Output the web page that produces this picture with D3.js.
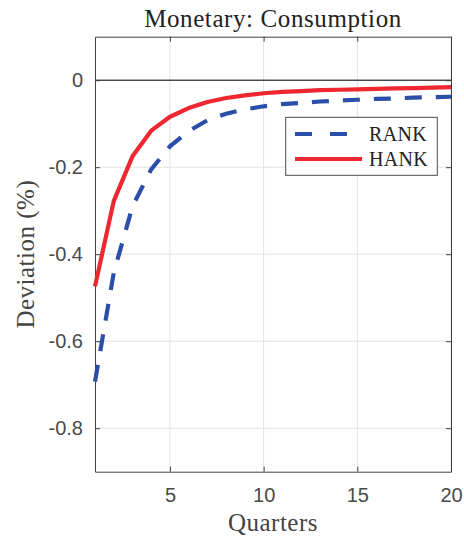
<!DOCTYPE html>
<html>
<head>
<meta charset="utf-8">
<script src="https://cdn.jsdelivr.net/npm/d3@7/dist/d3.min.js"></script>
<style>
  html, body { margin: 0; padding: 0; background: #fff; }
  svg { display: block; }
</style>
</head>
<body>
<svg id="chart" width="464" height="539"></svg>
<script>
// Impulse responses of consumption to a monetary shock (% deviation)
const quarters = d3.range(1, 21);
const rankValues = [-0.693, -0.443, -0.290, -0.205, -0.152, -0.117, -0.092, -0.077, -0.067, -0.060,
                    -0.055, -0.052, -0.049, -0.047, -0.045, -0.043, -0.042, -0.040, -0.039, -0.038];
const hankValues = [-0.474, -0.278, -0.175, -0.116, -0.084, -0.064, -0.050, -0.041, -0.035, -0.030,
                    -0.027, -0.025, -0.023, -0.022, -0.021, -0.020, -0.019, -0.018, -0.017, -0.016];
const xTicks = [5, 10, 15, 20];
const yTicks = [0, -0.2, -0.4, -0.6, -0.8];
const seriesNames = ["RANK", "HANK"];

const margin = { left: 95, right: 13, top: 36.7, bottom: 67.3 };
const W = 464, H = 539;
const svg = d3.select("#chart");

const x = d3.scaleLinear().domain([1, 20]).range([margin.left, W - margin.right]);
const y = d3.scaleLinear().domain([-0.9, 0.1]).range([H - margin.bottom, margin.top]);

const plotW = x.range()[1] - x.range()[0];
const plotH = y.range()[0] - y.range()[1];

// grid
const grid = svg.append("g").attr("stroke", "#e3e3e3").attr("stroke-width", 1);
grid.selectAll(".gx").data(xTicks).join("line")
  .attr("x1", d => x(d)).attr("x2", d => x(d))
  .attr("y1", y.range()[1]).attr("y2", y.range()[0]);
grid.selectAll(".gy").data(yTicks).join("line")
  .attr("x1", x.range()[0]).attr("x2", x.range()[1])
  .attr("y1", d => y(d)).attr("y2", d => y(d));

// zero line
svg.append("line")
  .attr("x1", x.range()[0]).attr("x2", x.range()[1])
  .attr("y1", y(0)).attr("y2", y(0))
  .attr("stroke", "#000").attr("stroke-width", 1);

// axes (ticks point inward, box on all four sides)
const tickFont = "'Liberation Sans', Arial, sans-serif";
const styleAxis = g => {
  g.select(".domain").attr("stroke", "#404040");
  g.selectAll(".tick line").attr("stroke", "#404040");
  g.selectAll(".tick text").attr("fill", "#4a4a4a")
    .style("font-family", tickFont).style("font-size", "20px");
};
const fmtY = d => d === 0 ? "0" : d.toFixed(1);  // plain hyphen-minus
svg.append("g").attr("transform", `translate(0,${y.range()[0]})`)
  .call(d3.axisBottom(x).tickValues(xTicks).tickSizeInner(-5).tickSizeOuter(0).tickPadding(16))
  .call(styleAxis);
svg.append("g").attr("transform", `translate(0,${y.range()[1]})`)
  .call(d3.axisTop(x).tickValues(xTicks).tickSizeInner(-5).tickSizeOuter(0).tickFormat(""))
  .call(styleAxis);
svg.append("g").attr("transform", `translate(${x.range()[0]},0)`)
  .call(d3.axisLeft(y).tickValues(yTicks).tickSizeInner(-5).tickSizeOuter(0).tickPadding(12)
    .tickFormat(fmtY))
  .call(styleAxis);
svg.append("g").attr("transform", `translate(${x.range()[1]},0)`)
  .call(d3.axisRight(y).tickValues(yTicks).tickSizeInner(-5).tickSizeOuter(0).tickFormat(""))
  .call(styleAxis);

// lines
const line = d3.line().x((d, i) => x(quarters[i])).y(d => y(d));
const colors = { RANK: "#2b4ea8", HANK: "#ee2730" };
svg.append("path").datum(rankValues)
  .attr("d", line).attr("fill", "none")
  .attr("stroke", colors.RANK).attr("stroke-width", 4.2)
  .attr("stroke-dasharray", "17,14");
svg.append("path").datum(hankValues)
  .attr("d", line).attr("fill", "none")
  .attr("stroke", colors.HANK).attr("stroke-width", 4.2)
  .attr("stroke-linejoin", "round");

// legend
const serif = "'Liberation Serif', 'Times New Roman', serif";
const lg = svg.append("g");
lg.append("rect").attr("x", 285.7).attr("y", 117.3).attr("width", 151.6).attr("height", 58)
  .attr("fill", "#fff").attr("stroke", "#4a4a4a").attr("stroke-width", 1);
seriesNames.forEach((name, i) => {
  const ly = 134 + i * 25;
  lg.append("line").attr("x1", 295).attr("x2", 362).attr("y1", ly).attr("y2", ly)
    .attr("stroke", colors[name]).attr("stroke-width", 4.2)
    .attr("stroke-dasharray", name === "RANK" ? "17,18" : null);
  lg.append("text").attr("x", 369).attr("y", ly).attr("dy", "0.35em")
    .style("font-family", serif).style("font-size", "20px").attr("fill", "#222")
    .style("letter-spacing", "0.3px")
    .text(name);
});

// titles
const cx = (x.range()[0] + x.range()[1]) / 2;
svg.append("text").attr("x", cx).attr("y", 27).attr("text-anchor", "middle")
  .style("font-family", serif).style("font-size", "25px").attr("fill", "#222")
  .style("letter-spacing", "0.6px")
  .text("Monetary:  Consumption");
svg.append("text").attr("x", cx).attr("y", 531).attr("text-anchor", "middle")
  .style("font-family", serif).style("font-size", "25px").attr("fill", "#444")
  .style("letter-spacing", "0.5px")
  .text("Quarters");
svg.append("text").attr("transform", `translate(33.5,${(y.range()[0] + y.range()[1]) / 2}) rotate(-90)`)
  .attr("text-anchor", "middle")
  .style("font-family", serif).style("font-size", "25px").attr("fill", "#444")
  .style("letter-spacing", "0.5px")
  .text("Deviation (%)");
</script>
</body>
</html>
